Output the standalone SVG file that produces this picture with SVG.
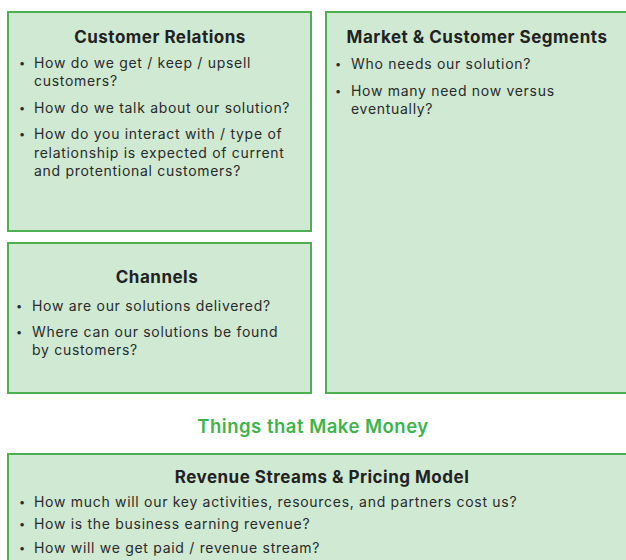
<svg xmlns="http://www.w3.org/2000/svg" width="626" height="560" viewBox="0 0 626 560">
<style>
.box{fill:#cfe9d3;stroke:#4cb050;stroke-width:2}
.t{font-family:Inter,"Liberation Sans",sans-serif;font-size:17px;font-weight:700;letter-spacing:0.5px;fill:#222;text-anchor:middle}
.b{font-family:Inter,"Liberation Sans",sans-serif;font-size:14px;letter-spacing:0.7px;fill:#2a2a2a}
.d{font-family:Inter,"Liberation Sans",sans-serif;font-size:11px;fill:#2a2a2a}
.h{font-family:Inter,"Liberation Sans",sans-serif;font-size:18.5px;font-weight:600;letter-spacing:0.5px;fill:#3cb54a;text-anchor:middle}
</style>
<rect width="626" height="560" fill="#fff"/>
<g id="customer-relations">
<rect class="box" x="8" y="12" width="303" height="219"/>
<text class="t" x="160" y="43">Customer Relations</text>
<text class="d" x="19" y="67">•</text>
<text class="b" x="34" y="68">How do we get / keep / upsell<tspan x="34" dy="18">customers?</tspan></text>
<text class="d" x="19" y="112">•</text>
<text class="b" x="34" y="113">How do we talk about our solution?</text>
<text class="d" x="19" y="138">•</text>
<text class="b" x="34" y="139">How do you interact with / type of<tspan x="34" dy="18.5">relationship is expected of current</tspan><tspan x="34" dy="18.5">and protentional customers?</tspan></text>
</g>
<g id="market-segments">
<rect class="box" x="326" y="12" width="320" height="381"/>
<text class="t" x="477" y="43">Market &amp; Customer Segments</text>
<text class="d" x="335" y="68">•</text>
<text class="b" x="351" y="69">Who needs our solution?</text>
<text class="d" x="335" y="95">•</text>
<text class="b" x="351" y="96">How many need now versus<tspan x="351" dy="17.5">eventually?</tspan></text>
</g>
<g id="channels">
<rect class="box" x="8" y="243" width="303" height="150"/>
<text class="t" x="157" y="283">Channels</text>
<text class="d" x="16" y="310">•</text>
<text class="b" x="32" y="311">How are our solutions delivered?</text>
<text class="d" x="16" y="336">•</text>
<text class="b" x="32" y="337">Where can our solutions be found<tspan x="32" dy="17.5">by customers?</tspan></text>
</g>
<g id="section-title">
<text class="h" x="313" y="433">Things that Make Money</text>
</g>
<g id="revenue-streams">
<rect class="box" x="8" y="454" width="640" height="130"/>
<text class="t" x="322" y="483">Revenue Streams &amp; Pricing Model</text>
<text class="d" x="19" y="506">•</text>
<text class="b" x="34" y="507">How much will our key activities, resources, and partners cost us?</text>
<text class="d" x="19" y="528">•</text>
<text class="b" x="34" y="529">How is the business earning revenue?</text>
<text class="d" x="19" y="552">•</text>
<text class="b" x="34" y="553">How will we get paid / revenue stream?</text>
</g>
<g id="connectors"></g>
</svg>
